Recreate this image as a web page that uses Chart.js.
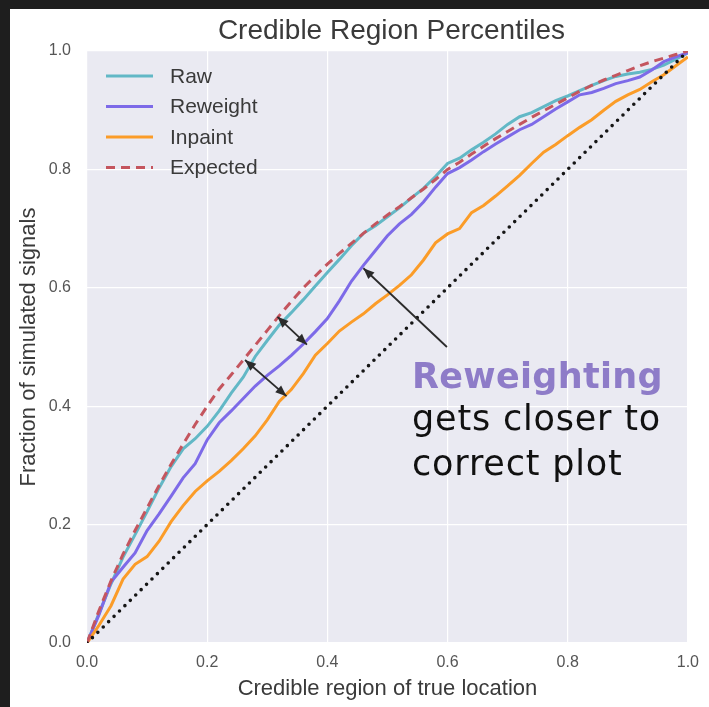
<!DOCTYPE html>
<html>
<head>
<meta charset="utf-8">
<script src="https://cdn.jsdelivr.net/npm/chart.js@4.4.1/dist/chart.umd.min.js"></script>
<style>
  html, body { margin: 0; padding: 0; width: 709px; height: 707px; overflow: hidden; background: #1e1e1e; }
  #panel { position: absolute; left: 10px; top: 9px; width: 699px; height: 698px; background: #ffffff; }
  canvas { display: block; }
</style>
</head>
<body>
<div id="panel"><canvas id="chart" width="699" height="698"></canvas></div>
<script>
// Credible region level (x) at which each curve is sampled
const percentiles = [0,0.02,0.04,0.06,0.08,0.1,0.12,0.14,0.16,0.18,0.2,0.22,0.24,0.26,0.28,0.3,0.32,0.34,0.36,0.38,0.4,0.42,0.44,0.46,0.48,0.5,0.52,0.54,0.56,0.58,0.6,0.62,0.64,0.66,0.68,0.7,0.72,0.74,0.76,0.78,0.8,0.82,0.84,0.86,0.88,0.9,0.92,0.94,0.96,0.98,1];

// Fraction of simulated signals found inside the credible region
const rawFraction = [0,0.05,0.1,0.145,0.183,0.222,0.262,0.298,0.328,0.345,0.366,0.392,0.422,0.449,0.484,0.511,0.537,0.558,0.58,0.603,0.626,0.648,0.671,0.692,0.705,0.72,0.735,0.752,0.768,0.788,0.81,0.819,0.833,0.846,0.86,0.876,0.889,0.896,0.906,0.916,0.924,0.933,0.942,0.95,0.957,0.961,0.964,0.969,0.976,0.986,0.997];
const reweightFraction = [0,0.048,0.103,0.128,0.152,0.19,0.218,0.248,0.279,0.303,0.343,0.372,0.392,0.413,0.434,0.452,0.468,0.486,0.505,0.526,0.548,0.578,0.611,0.638,0.663,0.688,0.708,0.724,0.745,0.77,0.793,0.803,0.816,0.83,0.843,0.855,0.867,0.876,0.889,0.902,0.914,0.926,0.93,0.937,0.945,0.95,0.956,0.968,0.982,0.99,0.997];
const inpaintFraction = [0,0.03,0.063,0.108,0.133,0.146,0.172,0.205,0.232,0.256,0.274,0.29,0.308,0.328,0.35,0.377,0.408,0.428,0.455,0.486,0.506,0.527,0.542,0.556,0.573,0.588,0.604,0.622,0.647,0.676,0.691,0.7,0.727,0.739,0.755,0.772,0.79,0.81,0.829,0.842,0.857,0.871,0.884,0.9,0.915,0.926,0.935,0.948,0.96,0.975,0.99];
const expectedFraction = [0,0.055,0.105,0.15,0.19,0.228,0.266,0.302,0.336,0.369,0.4,0.429,0.453,0.478,0.503,0.528,0.553,0.577,0.6,0.62,0.64,0.658,0.675,0.692,0.708,0.723,0.737,0.752,0.767,0.783,0.8,0.812,0.826,0.839,0.852,0.864,0.876,0.888,0.899,0.91,0.921,0.932,0.942,0.951,0.959,0.967,0.975,0.982,0.988,0.994,1];

// Perfect calibration reference line
const diagonalX = [0, 1];
const diagonalY = [0, 1];

const xTicks = [0, 0.2, 0.4, 0.6, 0.8, 1.0];
const yTicks = [0, 0.2, 0.4, 0.6, 0.8, 1.0];

const seriesNames = ['Raw', 'Reweight', 'Inpaint', 'Expected'];
const seriesColors = ['#62b8c6', '#7d6ae8', '#fb9c28', '#c4555e'];

const pts = (xs, ys) => xs.map((x, i) => ({ x: x, y: ys[i] }));

const AXIS_FONT = '"Liberation Sans", Arial, sans-serif';
const NOTE_FONT = '"DejaVu Sans", sans-serif';

// Arrows in data coordinates: [x0, y0, x1, y1, headAtStart]
const arrows = [
  [0.317, 0.551, 0.366, 0.504, true],
  [0.263, 0.478, 0.332, 0.417, true],
  [0.599, 0.500, 0.460, 0.633, false]
];

const plotBackground = {
  id: 'plotBackground',
  beforeDraw(chart) {
    const { ctx, chartArea: a } = chart;
    ctx.save();
    ctx.fillStyle = '#eaeaf2';
    ctx.fillRect(a.left, a.top, a.right - a.left, a.bottom - a.top);
    ctx.restore();
  }
};

function arrowHead(ctx, fx, fy, tx, ty) {
  const ang = Math.atan2(ty - fy, tx - fx);
  const len = 11, half = 4.5;
  ctx.beginPath();
  ctx.moveTo(tx, ty);
  ctx.lineTo(tx - len * Math.cos(ang) + half * Math.sin(ang), ty - len * Math.sin(ang) - half * Math.cos(ang));
  ctx.lineTo(tx - len * Math.cos(ang) - half * Math.sin(ang), ty - len * Math.sin(ang) + half * Math.cos(ang));
  ctx.closePath();
  ctx.fill();
}

const decorations = {
  id: 'decorations',
  afterDraw(chart) {
    const { ctx, chartArea: a, scales } = chart;
    const sx = scales.x, sy = scales.y;
    ctx.save();

    // Title centred over the plotting area
    ctx.fillStyle = '#3a3a3a';
    ctx.font = '28px ' + AXIS_FONT;
    ctx.textAlign = 'center';
    ctx.textBaseline = 'middle';
    ctx.fillText('Credible Region Percentiles', (a.left + a.right) / 2 + 4, 22);

    // Legend in the upper-left corner of the axes
    ctx.textAlign = 'left';
    ctx.font = '21px ' + AXIS_FONT;
    const lx0 = a.left + 19, lx1 = a.left + 66, tx = a.left + 83;
    seriesNames.forEach((name, i) => {
      const y = a.top + 25 + i * 30.5;
      ctx.strokeStyle = seriesColors[i];
      ctx.lineWidth = 3;
      ctx.lineCap = 'butt';
      ctx.setLineDash(name === 'Expected' ? [9, 6] : []);
      ctx.beginPath();
      ctx.moveTo(lx0, y);
      ctx.lineTo(lx1, y);
      ctx.stroke();
      ctx.setLineDash([]);
      ctx.fillStyle = '#3a3a3a';
      ctx.fillText(name, tx, y + 1);
    });

    // Annotation arrows
    ctx.strokeStyle = '#2b2b2b';
    ctx.fillStyle = '#2b2b2b';
    ctx.lineWidth = 1.8;
    arrows.forEach(([x0, y0, x1, y1, both]) => {
      const px0 = sx.getPixelForValue(x0), py0 = sy.getPixelForValue(y0);
      const px1 = sx.getPixelForValue(x1), py1 = sy.getPixelForValue(y1);
      ctx.beginPath();
      ctx.moveTo(px0, py0);
      ctx.lineTo(px1, py1);
      ctx.stroke();
      arrowHead(ctx, px0, py0, px1, py1);
      if (both) arrowHead(ctx, px1, py1, px0, py0);
    });

    // Annotation text
    const nx = sx.getPixelForValue(0.541);
    ctx.textAlign = 'left';
    ctx.textBaseline = 'alphabetic';
    ctx.fillStyle = '#8e7cc8';
    ctx.font = 'bold 35px ' + NOTE_FONT;
    ctx.letterSpacing = '0.3px';
    ctx.fillText('Reweighting', nx, sy.getPixelForValue(0.431));
    ctx.fillStyle = '#111111';
    ctx.font = '35px ' + NOTE_FONT;
    ctx.letterSpacing = '0.8px';
    ctx.fillText('gets closer to', nx, sy.getPixelForValue(0.36));
    ctx.fillText('correct plot', nx, sy.getPixelForValue(0.284));
    ctx.letterSpacing = '0px';
    ctx.restore();
  }
};

const lineStyle = (label, data, color, extra) => Object.assign({
  label: label,
  data: data,
  borderColor: color,
  backgroundColor: color,
  borderWidth: 3,
  pointRadius: 0,
  tension: 0,
  fill: false
}, extra || {});

new Chart(document.getElementById('chart'), {
  type: 'line',
  data: {
    datasets: [
      lineStyle('Perfect', pts(diagonalX, diagonalY), '#151515', { borderWidth: 3.6, borderDash: [0, 7.6], borderCapStyle: 'round' }),
      lineStyle('Expected', pts(percentiles, expectedFraction), seriesColors[3], { borderDash: [9, 6] }),
      lineStyle('Inpaint', pts(percentiles, inpaintFraction), seriesColors[2]),
      lineStyle('Reweight', pts(percentiles, reweightFraction), seriesColors[1]),
      lineStyle('Raw', pts(percentiles, rawFraction), seriesColors[0])
    ]
  },
  options: {
    responsive: false,
    animation: false,
    events: [],
    layout: { padding: { left: 0, right: 13, top: 42, bottom: 0 } },
    plugins: { legend: { display: false }, tooltip: { enabled: false }, title: { display: false } },
    scales: {
      x: {
        type: 'linear', min: 0, max: 1,
        afterBuildTicks: s => { s.ticks = xTicks.map(v => ({ value: v })); },
        afterFit: s => { s.height = 64; },
        grid: { color: '#ffffff', lineWidth: 1.2, drawTicks: false },
        border: { display: false },
        ticks: { padding: 10, color: '#555555', font: { family: AXIS_FONT, size: 16 }, callback: v => v.toFixed(1), maxRotation: 0 },
        title: { display: true, text: 'Credible region of true location', color: '#3a3a3a', font: { family: AXIS_FONT, size: 22 }, padding: { top: 0, bottom: 5 } }
      },
      y: {
        type: 'linear', min: 0, max: 1,
        afterBuildTicks: s => { s.ticks = yTicks.map(v => ({ value: v })); },
        afterFit: s => { s.width = 77; },
        grid: { color: '#ffffff', lineWidth: 1.2, drawTicks: false },
        border: { display: false },
        ticks: { padding: 16, color: '#555555', font: { family: AXIS_FONT, size: 16 }, callback: v => v.toFixed(1) },
        title: { display: true, text: 'Fraction of simulated signals', color: '#3a3a3a', font: { family: AXIS_FONT, size: 22 }, padding: { top: 6, bottom: 0 } }
      }
    }
  },
  plugins: [plotBackground, decorations]
});
</script>
</body>
</html>
